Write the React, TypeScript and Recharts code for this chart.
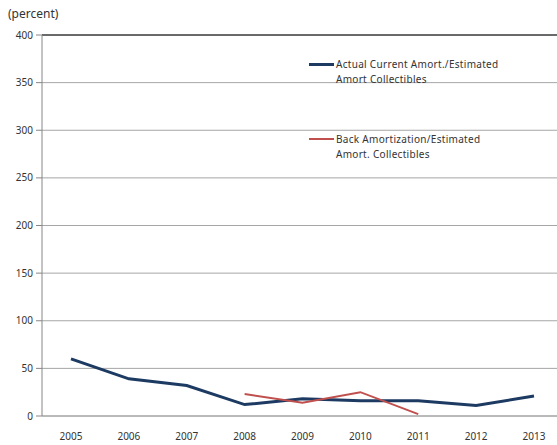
import { CartesianGrid, Line, LineChart, ReferenceLine, XAxis, YAxis } from 'recharts'

const years = ['2005', '2006', '2007', '2008', '2009', '2010', '2011', '2012', '2013']
const actualCurrent = [60, 39, 32, 12, 18, 16, 16, 11, 21]
const backAmort = [null, null, null, 23, 14, 25, 2, null, null]
const yTicks = [0, 50, 100, 150, 200, 250, 300, 350, 400]

const chartData = years.map((year, i) => ({
  year,
  actual: actualCurrent[i],
  back: backAmort[i],
}))

const font = '"Noto Sans", "Liberation Sans", sans-serif'
const textColor = '#333333'

const legendItems = [
  { color: '#1c3a62', width: 3, lines: ['Actual Current Amort./Estimated', 'Amort Collectibles'], top: 57 },
  { color: '#c0504d', width: 2, lines: ['Back Amortization/Estimated', 'Amort. Collectibles'], top: 132 },
]

function LegendBox() {
  return (
    <>
      {legendItems.map((item) => (
        <div
          key={item.lines[0]}
          style={{ position: 'absolute', left: 309, top: item.top, fontFamily: font, fontSize: 10, color: textColor }}
        >
          <div
            style={{
              position: 'absolute',
              left: 0,
              top: 7 - item.width / 2,
              width: 25,
              height: item.width,
              background: item.color,
            }}
          />
          <div
            style={{
              position: 'absolute',
              left: 27,
              top: 0,
              lineHeight: '15px',
              whiteSpace: 'nowrap',
              letterSpacing: 0.3,
            }}
          >
            {item.lines.map((l) => (
              <div key={l}>{l}</div>
            ))}
          </div>
        </div>
      ))}
    </>
  )
}

export default function App() {
  return (
    <div
      style={{
        position: 'absolute',
        left: 0,
        top: 0,
        width: 557,
        height: 445,
        overflow: 'hidden',
        background: '#fff',
      }}
    >
      <div style={{ position: 'absolute', left: 8, top: 5, fontFamily: font, fontSize: 12, color: textColor }}>
        (percent)
      </div>
      <LineChart width={563} height={445} data={chartData} margin={{ top: 35, right: 0, bottom: 0, left: 0 }}>
        <CartesianGrid vertical={false} stroke="#a6a6a6" strokeWidth={1} />
        <XAxis
          dataKey="year"
          height={29}
          padding={{ left: 29, right: 29 }}
          tickLine={false}
          axisLine={{ stroke: '#a0a0a0' }}
          tick={{ fontSize: 10, fill: textColor, fontFamily: font }}
          tickMargin={11}
        />
        <YAxis
          width={42}
          domain={[0, 400]}
          ticks={yTicks}
          interval={0}
          axisLine={{ stroke: '#868686' }}
          tickLine={{ stroke: '#868686' }}
          tickSize={6}
          tickMargin={3}
          tick={{ fontSize: 10, fill: textColor, fontFamily: font }}
        />
        <ReferenceLine y={400} stroke="#000" strokeWidth={1} />
        <Line
          type="linear"
          dataKey="actual"
          stroke="#1c3a62"
          strokeWidth={3}
          dot={false}
          isAnimationActive={false}
        />
        <Line
          type="linear"
          dataKey="back"
          stroke="#c0504d"
          strokeWidth={2}
          dot={false}
          isAnimationActive={false}
        />
      </LineChart>
      <LegendBox />
    </div>
  )
}
